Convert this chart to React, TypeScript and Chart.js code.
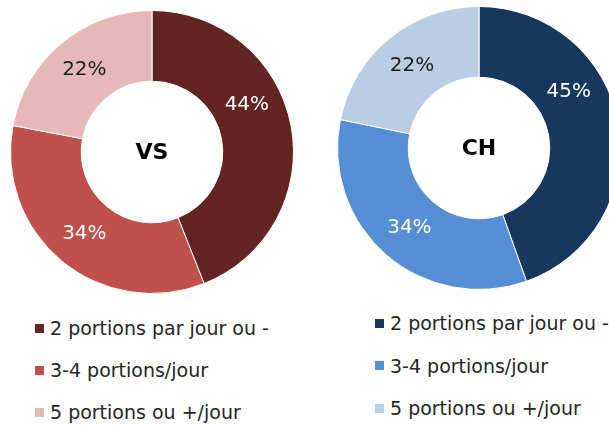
import React, { useEffect, useRef } from "react";
import { Chart, registerables } from "chart.js";

Chart.register(...registerables);

const categories = ["2 portions par jour ou -", "3-4 portions/jour", "5 portions ou +/jour"];
const vsValues = [44, 34, 22];
const chValues = [45, 34, 22];
const vsColors = ["#632523", "#C0504D", "#E6B9B8"];
const chColors = ["#17375E", "#558ED5", "#B9CDE5"];
const labelColors = ["#ffffff", "#ffffff", "#1e1e1e"];

const FONT = "'DejaVu Sans', Verdana, sans-serif";

type DonutProps = {
  values: number[];
  colors: string[];
  center: string;
  labelFrac: number[];
  box: { left: number; top: number; size: number };
};

const labelPlugin = {
  id: "sliceLabels",
  afterDatasetsDraw(chart: any) {
    const opts = chart.options.plugins.sliceLabels;
    const ctx = chart.ctx;
    const meta = chart.getDatasetMeta(0);
    const data = chart.data.datasets[0].data as number[];
    ctx.save();
    ctx.textAlign = "center";
    ctx.textBaseline = "middle";
    meta.data.forEach((arc: any, i: number) => {
      const p = arc.getProps(["x", "y", "startAngle", "endAngle", "innerRadius", "outerRadius"], true);
      const f = opts.frac[i] ?? 0.5;
      const a = p.startAngle + f * (p.endAngle - p.startAngle);
      const r = (p.innerRadius + p.outerRadius) / 2;
      ctx.font = `20px ${FONT}`;
      ctx.fillStyle = labelColors[i];
      ctx.fillText(`${data[i]}%`, p.x + Math.cos(a) * r, p.y + Math.sin(a) * r);
    });
    const c = meta.data[0];
    ctx.font = `bold 22px ${FONT}`;
    ctx.fillStyle = "#000";
    ctx.fillText(opts.center, c.x, c.y + 1);
    ctx.restore();
  },
};

function Donut({ values, colors, center, labelFrac, box }: DonutProps) {
  const ref = useRef<HTMLCanvasElement>(null);
  useEffect(() => {
    const chart = new Chart(ref.current as HTMLCanvasElement, {
      type: "doughnut",
      data: {
        labels: categories,
        datasets: [
          {
            data: values,
            backgroundColor: colors,
            borderColor: "#ffffff",
            borderWidth: 1,
          },
        ],
      },
      options: {
        animation: false,
        responsive: false,
        cutout: "50%",
        layout: { padding: 0 },
        plugins: {
          legend: { display: false },
          tooltip: { enabled: false },
          sliceLabels: { frac: labelFrac, center },
        } as any,
      },
      plugins: [labelPlugin],
    });
    return () => chart.destroy();
  }, []);
  return (
    <canvas
      ref={ref}
      width={box.size}
      height={box.size}
      style={{ position: "absolute", left: box.left, top: box.top, width: box.size, height: box.size }}
    />
  );
}

function Legend({ colors, left, top, gap }: { colors: string[]; left: number; top: number; gap: number }) {
  return (
    <>
      {categories.map((c, i) => (
        <div
          key={c}
          style={{
            position: "absolute",
            left,
            top: top + i * gap - 12,
            height: 24,
            display: "flex",
            alignItems: "center",
            whiteSpace: "nowrap",
            fontFamily: FONT,
            fontSize: 19,
            color: "#262626",
          }}
        >
          <span style={{ display: "inline-block", width: 9, height: 9, background: colors[i], marginRight: 6 }} />
          <span>{c}</span>
        </div>
      ))}
    </>
  );
}

export default function App() {
  return (
    <div
      style={{
        position: "fixed",
        left: 0,
        top: 0,
        width: 609,
        height: 425,
        overflow: "hidden",
        background: "#fff",
      }}
    >
      <Donut
        values={vsValues}
        colors={vsColors}
        center="VS"
        labelFrac={[0.4, 0.5, 0.5]}
        box={{ left: 9.5, top: 10, size: 284 }}
      />
      <Donut
        values={chValues}
        colors={chColors}
        center="CH"
        labelFrac={[0.36, 0.5, 0.5]}
        box={{ left: 337, top: 5.5, size: 284 }}
      />
      <Legend colors={vsColors} left={35} top={328} gap={42} />
      <Legend colors={chColors} left={375} top={323} gap={42.5} />
    </div>
  );
}
